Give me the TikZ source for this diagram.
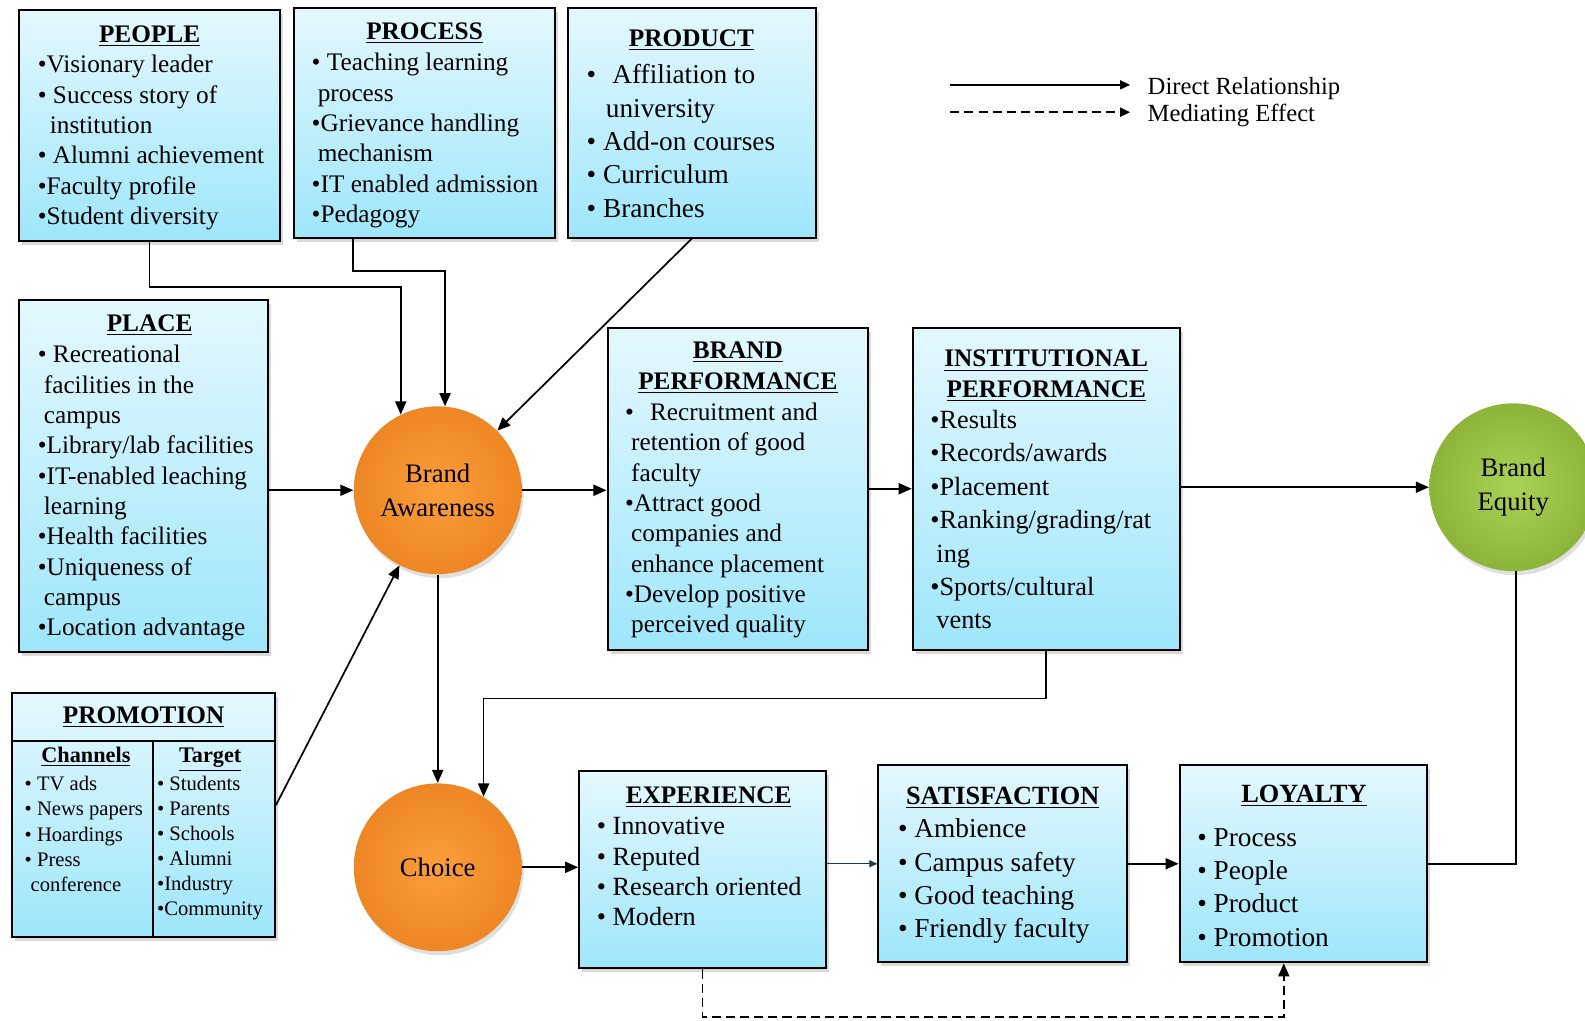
\documentclass[tikz,border=0pt]{standalone}
\usepackage{fontspec}
\setmainfont{Liberation Serif}
\usetikzlibrary{arrows.meta,shadows,calc}

\definecolor{boxtop}{RGB}{228,248,254}
\definecolor{boxbot}{RGB}{158,230,251}
\definecolor{orangein}{RGB}{251,158,60}
\definecolor{orangeout}{RGB}{238,134,36}
\definecolor{greenin}{RGB}{170,210,86}
\definecolor{greenout}{RGB}{140,180,56}
\definecolor{thinline}{RGB}{30,60,75}

% one line per item, baselines spaced by #5 (in picture units)
\newcommand\itemlist[6]{%
  \foreach \t [count=\i] in {#6}
    \node[itm,#1] (#2-\i) at ({#3},{#4+8+(\i-1)*#5}) {\t};}

\begin{document}
\begin{tikzpicture}[x=0.5pt,y=-0.5pt,
  panel/.style={draw=black, line width=1pt, top color=boxtop, bottom color=boxbot,
    inner sep=0pt,
    drop shadow={shadow xshift=1.5pt, shadow yshift=-2pt, opacity=0.3}},
  orb/.style={circle, minimum size=83pt, inner sep=0pt, align=center,
    font=\fontsize{13.2}{16.5}\selectfont,
    drop shadow={shadow xshift=1pt, shadow yshift=-2pt, opacity=0.25}},
  orangeorb/.style={orb, inner color=orangein, outer color=orangeout},
  greenorb/.style={orb, inner color=greenin, outer color=greenout},
  itm/.style={anchor=base west, inner sep=0pt, font=\fontsize{12.5}{15}\selectfont},
  bigitm/.style={font=\fontsize{13.5}{16}\selectfont},
  smallitm/.style={font=\fontsize{10.2}{12}\selectfont},
  ttl/.style={anchor=base, inner sep=0pt, font=\bfseries\fontsize{12.5}{15}\selectfont},
  subttl/.style={anchor=base, inner sep=0pt, font=\bfseries\fontsize{11}{13}\selectfont},
  lgtxt/.style={anchor=base west, inner sep=0pt, font=\fontsize{12.2}{14}\selectfont},
  link/.style={line width=0.85pt},
  arr/.style={link, -{Triangle[length=6.5pt,width=5.5pt]}},
  thinarr/.style={line width=0.6pt, draw=thinline, -{Triangle[length=4pt,width=3.5pt]}},
  dasharr/.style={arr, dash pattern=on 4.5pt off 2.5pt},
]
\useasboundingbox (0,0) rectangle (1568,1010);

% ---------- boxes ----------
\node[panel, minimum width=129pt, minimum height=114pt]   (people)    at (148,124) {};
\node[panel, minimum width=129pt, minimum height=113.5pt] (process)   at (420,121.5) {};
\node[panel, minimum width=122.5pt, minimum height=113.5pt] (product) at (684.5,121.5) {};
\node[panel, minimum width=123pt, minimum height=174pt]   (place)     at (142,471) {};
\node[panel, minimum width=129pt, minimum height=159.5pt] (bp)        at (730,483.5) {};
\node[panel, minimum width=132pt, minimum height=159.5pt] (ip)        at (1035,483.5) {};
\node[panel, minimum width=130pt, minimum height=120.5pt] (promotion) at (142,806.5) {};
\node[panel, minimum width=122pt, minimum height=97.5pt]  (exp)       at (695,860.5) {};
\node[panel, minimum width=123pt, minimum height=97.5pt]  (sat)       at (992,854.5) {};
\node[panel, minimum width=122.5pt, minimum height=97.5pt] (loy)      at (1289.5,854.5) {};

% ---------- circles ----------
\node[orangeorb] (ba)     at (433,485)  {Brand\\Awareness};
\node[orangeorb] (choice) at (433,858)  {Choice};
\node[greenorb]  (be)     at (1497,482) {Brand\\Equity};

% ---------- PEOPLE ----------
\node[ttl] (peopleT) at (148,42) {\underline{PEOPLE}};
\itemlist{}{peo}{37}{64}{30}{•Visionary leader, • Success story of,
  \kern6pt institution, • Alumni achievement, •Faculty profile, •Student diversity}

% ---------- PROCESS ----------
\node[ttl] (processT) at (420,39) {\underline{PROCESS}};
\itemlist{}{pro}{308}{62}{30}{• Teaching learning, \kern3pt process,
  •Grievance handling, \kern3pt mechanism, •IT enabled admission, •Pedagogy}

% ---------- PRODUCT ----------
\node[ttl] (productT) at (684,46) {\underline{PRODUCT}};
\itemlist{bigitm}{prd}{580}{75}{33}{•\kern8pt Affiliation to, \kern9.5pt university,
  • Add-on courses, • Curriculum, • Branches}

% ---------- PLACE ----------
\node[ttl] (placeT) at (148,328) {\underline{PLACE}};
\itemlist{}{plc}{37}{351}{30}{• Recreational, \kern3pt facilities in the, \kern3pt campus,
  •Library/lab facilities, •IT-enabled leaching, \kern3pt learning, •Health facilities,
  •Uniqueness of, \kern3pt campus, •Location advantage}

% ---------- BRAND PERFORMANCE ----------
\node[ttl] (bpT1) at (730,355) {\underline{BRAND}};
\node[ttl] (bpT2) at (730,385) {\underline{PERFORMANCE}};
\itemlist{}{bpi}{618}{408}{30}{•\kern8pt Recruitment and, \kern3pt retention of good,
  \kern3pt faculty, •Attract good, \kern3pt companies and, \kern3pt enhance placement,
  •Develop positive, \kern3pt perceived quality}

% ---------- INSTITUTIONAL PERFORMANCE ----------
\node[ttl] (ipT1) at (1035,363) {\underline{INSTITUTIONAL}};
\node[ttl] (ipT2) at (1035,393) {\underline{PERFORMANCE}};
\itemlist{font=\fontsize{13}{16}\selectfont}{ipi}{920}{416}{33}{•Results, •Records/awards,
  •Placement, •Ranking/grading/rat, \kern3pt ing, •Sports/cultural, \kern3pt vents}

% ---------- PROMOTION ----------
\coordinate (promoRule) at (0,733);
\coordinate (promoDiv) at (151,0);
\draw[line width=1pt] (promotion.west |- promoRule) -- (promotion.east |- promoRule);
\draw[line width=1pt] (promoDiv |- promoRule) -- (promoDiv |- promotion.south);
\node[ttl] (promotionT) at (142,716) {\underline{PROMOTION}};
\node[subttl] (channelsT) at (85,754) {\underline{Channels}};
\node[subttl] (targetT) at (208,754) {\underline{Target}};
\itemlist{smallitm}{chn}{24}{774}{25}{• TV ads, • News papers, • Hoardings, • Press,
  \kern3pt conference}
\itemlist{smallitm}{tgt}{155}{774}{24.8}{• Students, • Parents, • Schools, • Alumni,
  •Industry, •Community}

% ---------- EXPERIENCE / SATISFACTION / LOYALTY ----------
\node[ttl] (expT) at (701,795) {\underline{EXPERIENCE}};
\itemlist{font=\fontsize{13}{15}\selectfont}{exi}{590}{818}{30}{• Innovative, • Reputed,
  • Research oriented, • Modern}

\node[ttl, font=\bfseries\fontsize{13}{15}\selectfont] (satT) at (992,796) {\underline{SATISFACTION}};
\itemlist{bigitm}{sai}{888}{821}{32.7}{• Ambience, • Campus safety, • Good teaching,
  • Friendly faculty}

\node[ttl, font=\bfseries\fontsize{13}{15}\selectfont] (loyT) at (1290,794) {\underline{LOYALTY}};
\itemlist{bigitm}{lyi}{1184}{829}{33}{• Process, • People, • Product, • Promotion}

% ---------- legend ----------
\coordinate (lgA1) at (940,84);
\coordinate (lgA2) at (1118,84);
\coordinate (lgB1) at (940,111);
\coordinate (lgB2) at (1118,111);
\draw[link, -{Triangle[length=5pt,width=4.5pt]}] (lgA1) -- (lgA2);
\draw[link, dash pattern=on 4.5pt off 2.5pt, -{Triangle[length=5pt,width=4.5pt]}] (lgB1) -- (lgB2);
\node[lgtxt] (lgDirect) at (1135,93) {Direct Relationship};
\node[lgtxt] (lgMediate) at (1135,120) {Mediating Effect};

% ---------- connectors ----------
\coordinate (peopleBend) at (0,284);
\coordinate (processBend) at (0,268);
\coordinate (ipBend) at (0,691);
\coordinate (dashBend) at (0,1006);
\coordinate (procFoot) at ($(process.south)+(-71,0)$);
\coordinate (promoOut) at ($(promotion.east)+(0,-10)$);
\coordinate (loyFoot) at ($(loy.south)+(-19.5,0)$);

\draw[arr] (people.south) -- (people.south |- peopleBend) -| (ba.116);
\draw[arr] (procFoot) -- (procFoot |- processBend) -| (ba.85);
\draw[arr] (product.south) -- (ba.45);
\draw[arr] (place.east |- ba.west) -- (ba.west);
\draw[arr] (promoOut) -- (ba.243);
\draw[arr] (ba.east) -- (ba.east -| bp.west);
\draw[arr] (bp.east) -- (ip.west);
\draw[arr] (ip.east |- be.west) -- (be.west);
\draw[arr] (ba.south) -- (choice.north);
\draw[arr] (ip.south) -- (ip.south |- ipBend) -| (choice.57);
\draw[arr] (choice.east) -- (choice.east -| exp.west);
\draw[thinarr] (exp.east |- sat.west) -- (sat.west);
\draw[arr] (sat.east) -- (loy.west);
\draw[link] (loy.east) -| (be.272);
\draw[dasharr] (exp.south) -- (exp.south |- dashBend) -| (loyFoot);
\end{tikzpicture}
\end{document}
